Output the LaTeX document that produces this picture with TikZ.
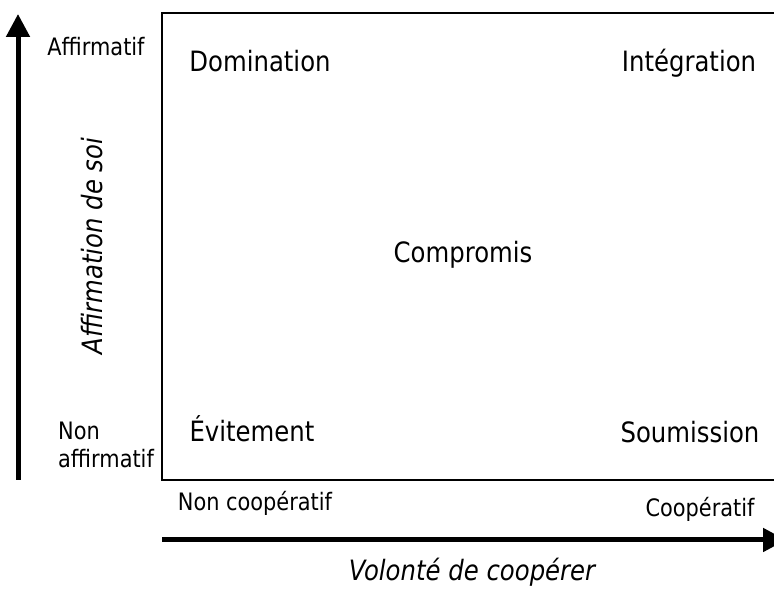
\documentclass[tikz,border=0pt]{standalone}
\usepackage{fontspec}
\setmainfont{DejaVu Sans}[FakeStretch=0.87]
\usetikzlibrary{arrows.meta}

\begin{document}
\begin{tikzpicture}[x=1pt,y=1pt,
     every node/.style={inner sep=0pt,text=black},
     style grand/.style={font=\fontsize{28}{33}\selectfont,anchor=base},
     style petit/.style={font=\fontsize{24}{28}\selectfont,anchor=base},
     style axe/.style={line width=5pt,-{Triangle[length=23pt,width=23pt]}}]
     \useasboundingbox (0,0) rectangle (774,589);

     % cadre
     \draw[line width=1.3pt] (162,109) rectangle (790,576);

     % axes
     \coordinate (Vbas) at (18,109);
     \coordinate (Vhaut) at (18,575);
     \coordinate (Hgauche) at (162,49);
     \coordinate (Hdroite) at (786,49);
     \draw[style axe] (Vbas) -- (Vhaut);
     \draw[style axe] (Hgauche) -- (Hdroite);

     % les cinq styles
     \node[style grand] (Domination) at (260,517) {Domination};
     \node[style grand] (Integration) at (689,517) {Intégration};
     \node[style grand] (Compromis) at (463,326) {Compromis};
     \node[style grand] (Evitement) at (252,147) {Évitement};
     \node[style grand] (Soumission) at (690,146) {Soumission};

     % graduations
     \node[style petit] (Affirmatif) at (96,533) {Affirmatif};
     \node[style petit,anchor=base west,align=left] (NonAffirmatif) at (58,121) {Non\\affirmatif};
     \node[style petit] (NonCooperatif) at (255,78) {Non coopératif};
     \node[style petit] (Cooperatif) at (700,72) {Coopératif};

     % titres des axes
     \node[font=\fontsize{28}{33}\selectfont\itshape,rotate=90] (AxeV) at (92,343) {Affirmation de soi};
     \node[style grand,font=\fontsize{28}{33}\selectfont\itshape] (AxeH) at (472,8) {Volonté de coopérer};
\end{tikzpicture}
\end{document}
